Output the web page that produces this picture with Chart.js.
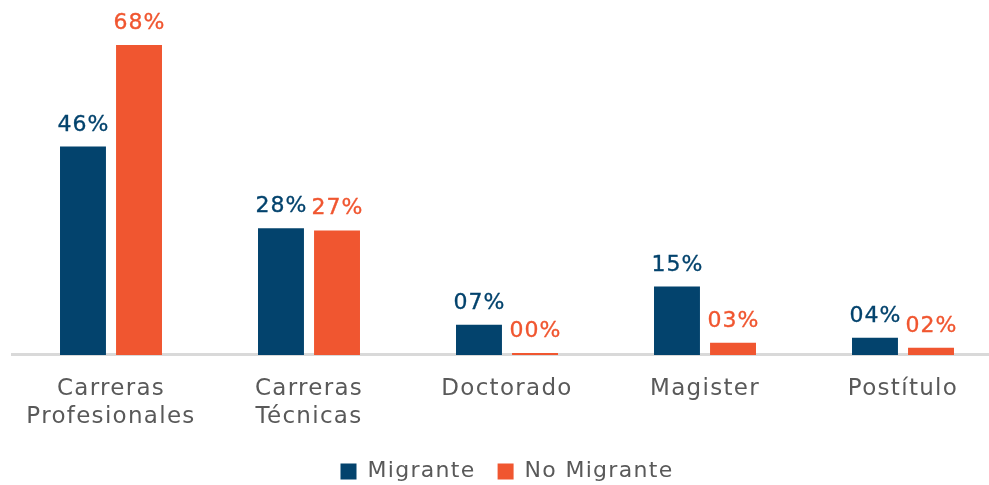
<!DOCTYPE html>
<html>
<head>
<meta charset="utf-8">
<script src="https://cdn.jsdelivr.net/npm/chart.js@4.4.1/dist/chart.umd.min.js"></script>
<style>
  html, body { margin: 0; padding: 0; background: #ffffff; overflow: hidden; }
  #wrap { width: 1002px; height: 485px; position: relative; }
</style>
</head>
<body>
<div id="wrap"><canvas id="c"></canvas></div>
<script>
const categories = [["Carreras", "Profesionales"], ["Carreras", "Técnicas"], "Doctorado", "Magister", "Postítulo"];
const migrante = [45.7, 27.8, 6.6, 15.0, 3.8];
const noMigrante = [68.0, 27.3, 0.45, 2.7, 1.6];
const seriesNames = ["Migrante", "No Migrante"];

const COL_MIG = '#03436D';
const COL_NOM = '#F05630';
const FONT = "'DejaVu Sans', sans-serif";
const SPACING = '1.3px';

const spacingPlugin = {
  id: 'spacing',
  beforeLayout(chart) { chart.ctx.letterSpacing = SPACING; },
  beforeDraw(chart) { chart.ctx.letterSpacing = SPACING; }
};

const valueLabels = {
  id: 'valueLabels',
  afterDatasetsDraw(chart) {
    const ctx = chart.ctx;
    ctx.save();
    ctx.letterSpacing = '1px';
    chart.data.datasets.forEach((ds, di) => {
      const meta = chart.getDatasetMeta(di);
      meta.data.forEach((bar, i) => {
        const v = Math.round(ds.data[i]);
        const txt = String(v).padStart(2, '0') + '%';
        ctx.font = '22px ' + FONT;
        ctx.fillStyle = ds.backgroundColor;
        ctx.strokeStyle = ds.backgroundColor;
        ctx.lineWidth = 0.35;
        ctx.textAlign = 'center';
        ctx.textBaseline = 'alphabetic';
        ctx.fillText(txt, bar.x + 0.5, bar.y - 16);
        ctx.strokeText(txt, bar.x + 0.5, bar.y - 16);
      });
    });
    ctx.restore();
  }
};

new Chart(document.getElementById('c'), {
  type: 'bar',
  data: {
    labels: categories,
    datasets: [
      { label: seriesNames[0], data: migrante, backgroundColor: COL_MIG, barPercentage: 0.82, categoryPercentage: 0.566 },
      { label: seriesNames[1], data: noMigrante, backgroundColor: COL_NOM, barPercentage: 0.82, categoryPercentage: 0.566 }
    ]
  },
  options: {
    responsive: true,
    maintainAspectRatio: false,
    animation: false,
    layout: { padding: { left: 12, right: 0, top: 13, bottom: -7.5 } },
    scales: {
      x: {
        grid: { display: false, drawTicks: false },
        border: { display: true, color: '#D9D9D9', width: 3 },
        ticks: { color: '#595959', font: { family: FONT, size: 23, lineHeight: 1.24 }, padding: 19.5, maxRotation: 0, autoSkip: false },
        afterFit(scale) { scale.height -= 12.5; }
      },
      y: {
        display: false,
        min: 0,
        max: 75
      }
    },
    plugins: {
      legend: {
        position: 'bottom',
        labels: {
          color: '#595959',
          font: { family: FONT, size: 22 },
          boxWidth: 16,
          boxHeight: 16,
          padding: 22
        }
      },
      tooltip: { enabled: false }
    }
  },
  plugins: [spacingPlugin, valueLabels]
});
</script>
</body>
</html>
